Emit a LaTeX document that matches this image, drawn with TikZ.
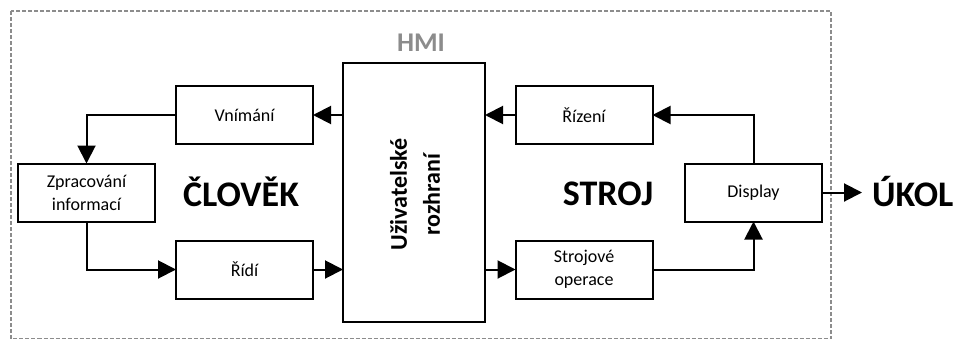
\documentclass[tikz,border=0pt]{standalone}
\usepackage{fontspec}
\setmainfont{Carlito}
\usetikzlibrary{arrows.meta}
\definecolor{framegray}{HTML}{8C8C8C}
\begin{document}
\begin{tikzpicture}[x=1pt,y=-1pt,
  blk/.style={draw, line width=2pt, minimum width=137pt, minimum height=58pt,
    inner sep=0pt, outer sep=0pt, align=center,
    font=\fontsize{18}{23}\selectfont},
  conn/.style={line width=2pt, -{Triangle[length=18pt,width=18pt]}},
  big/.style={font=\fontsize{36}{40}\selectfont\bfseries, inner sep=0pt}]
  \useasboundingbox (0,0) rectangle (960,340);

  % outer dashed frame of the HMI region
  \draw[framegray, line width=1.5pt, dash pattern=on 4pt off 2pt]
    (11,11) rectangle (831,338.5);
  \node[anchor=base, text=framegray, inner sep=0pt,
    font=\fontsize{27}{30}\selectfont\bfseries] (hmilabel) at (421,51) {HMI};

  % central interface block
  \node[draw, line width=2pt, minimum width=142pt, minimum height=259pt,
    inner sep=0pt, outer sep=0pt] (hmi) at (414,192.5) {};
  \node[rotate=90, align=center, inner sep=0pt,
    font=\fontsize{24}{33}\selectfont\bfseries] (hmitxt) at (415,194.5)
    {Uživatelské\\rozhraní};

  % human side
  \node[blk] (vn) at (244.5,115) {Vnímání};
  \node[blk] (zp) at (86.5,192.5) {Zpracování\\informací};
  \node[blk] (rd) at (244.5,269.5) {Řídí};
  \node[big, anchor=base] (clovek) at (241,206) {ČLOVĚK};

  % machine side
  \node[blk] (rz) at (584,115) {Řízení};
  \node[blk] (so) at (584,269.5) {Strojové\\operace};
  \node[blk] (dp) at (753.5,192.5) {Display};
  \node[big, anchor=base] (stroj) at (608,205.5) {STROJ};

  % task
  \node[big, anchor=base west, inner xsep=10pt] (ukol) at (862,206) {ÚKOL};

  % connectors
  \draw[conn] (vn.east -| hmi.west) -- (vn.east);
  \draw[conn] (vn.west) -| (zp.north);
  \draw[conn] (zp.south) |- (rd.west);
  \draw[conn] (rd.east) -- (rd.east -| hmi.west);
  \draw[conn] (so.west -| hmi.east) -- (so.west);
  \draw[conn] (so.east) -| (dp.south);
  \draw[conn] (dp.north) |- (rz.east);
  \draw[conn] (rz.west) -- (rz.west -| hmi.east);
  \draw[conn] (dp.east) -- (dp.east -| ukol.west);
\end{tikzpicture}
\end{document}
